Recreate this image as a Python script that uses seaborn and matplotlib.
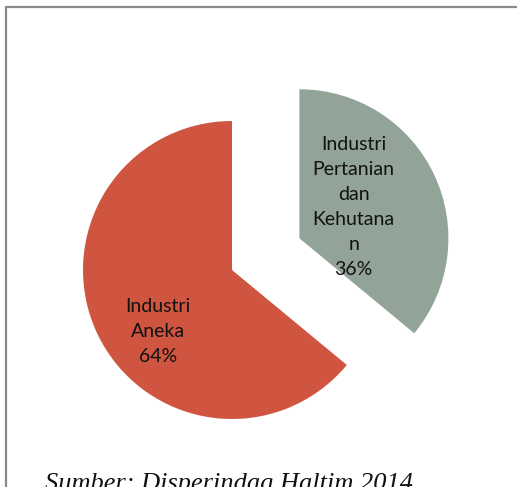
import numpy as np
import matplotlib
matplotlib.use("Agg")
import matplotlib.pyplot as plt
import seaborn as sns
from matplotlib.lines import Line2D

# ---- data ----
categories = ["Industri\nAneka", "Industri\nPertanian\ndan\nKehutana\nn"]
shares = [64, 36]
colors = ["#CF5541", "#92A398"]
explode = [0.0, 0.5]          # fraction of radius
source = "Sumber: Disperindag Haltim 2014"

sns.set_theme(style="white")
plt.rcParams["font.family"] = ["Lato", "DejaVu Sans"]

W, H = 517, 487
fig = plt.figure(figsize=(W / 100, H / 100), dpi=100)
ax = fig.add_axes([0, 0, 1, 1])

cx, cy, r = 232, H - 270, 149
wedges, _ = ax.pie(shares, colors=colors, explode=[e * r for e in explode],
                   startangle=90, counterclock=True, center=(cx, cy), radius=r,
                   wedgeprops=dict(linewidth=0), frame=True)
ax.set_xlim(0, W)
ax.set_ylim(0, H)
ax.set_aspect("equal")
ax.axis("off")

# labels placed relative to each wedge
label_pos = [(219.5, 0.645), (30, 0.42)]
for w, cat, val, (ang, d) in zip(wedges, categories, shares, label_pos):
    wx, wy = w.center
    a = np.deg2rad(ang)
    ax.text(wx + d * r * np.cos(a), wy + d * r * np.sin(a), f"{cat}\n{val}%",
            ha="center", va="center", fontsize=14, color="#111111",
            linespacing=1.57)

# frame border (clipped on right and bottom)
fig.add_artist(Line2D([6 / W, 6 / W], [-0.1, 1 - 7 / H], transform=fig.transFigure,
                      color="#8a8a8a", linewidth=1.6))
fig.add_artist(Line2D([6 / W, 1.1], [1 - 7 / H, 1 - 7 / H], transform=fig.transFigure,
                      color="#8a8a8a", linewidth=1.6))

ax.text(45, -3, source, ha="left", va="baseline", fontsize=19, style="italic",
        family=["Liberation Serif", "DejaVu Serif"], color="#111111", clip_on=False)

fig.savefig("out.png", dpi=100)
